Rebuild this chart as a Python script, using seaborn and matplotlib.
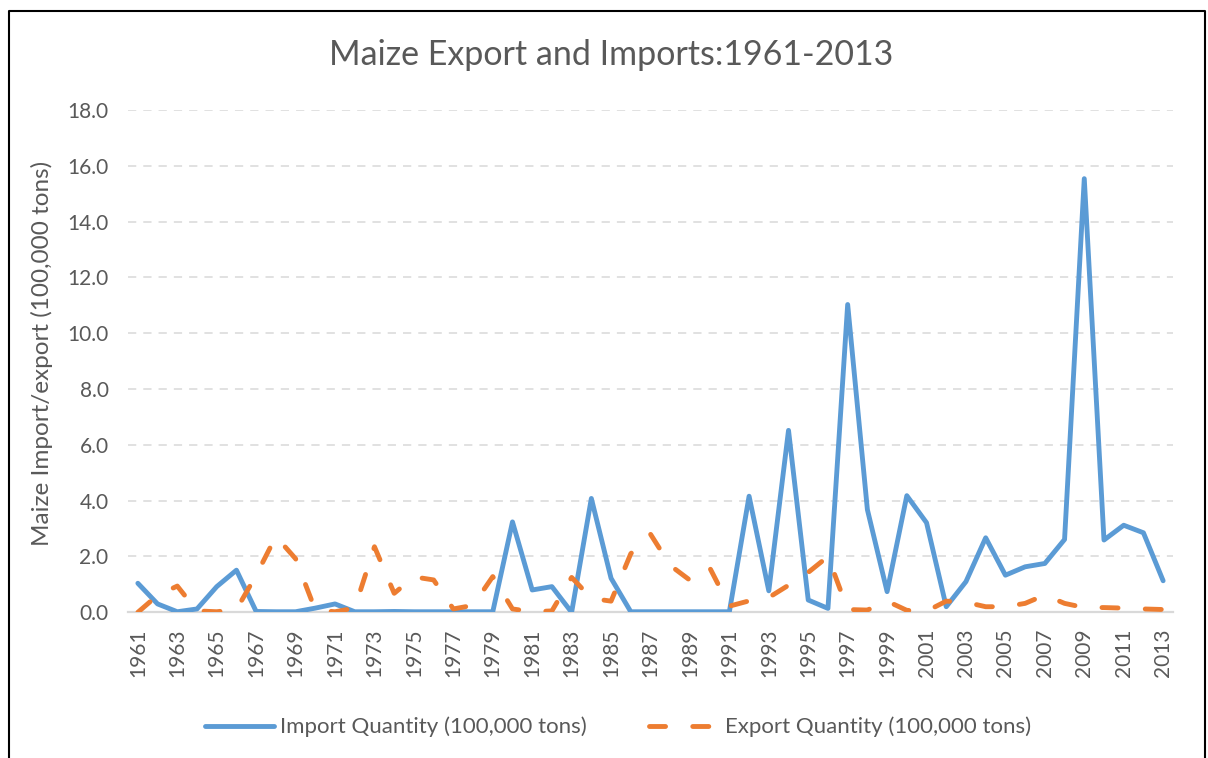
import matplotlib
matplotlib.use("Agg")
import matplotlib.pyplot as plt
import pandas as pd
import seaborn as sns
from matplotlib.lines import Line2D

years = [1961, 1962, 1963, 1964, 1965, 1966, 1967, 1968, 1969, 1970,
         1971, 1972, 1973, 1974, 1975, 1976, 1977, 1978, 1979, 1980,
         1981, 1982, 1983, 1984, 1985, 1986, 1987, 1988, 1989, 1990,
         1991, 1992, 1993, 1994, 1995, 1996, 1997, 1998, 1999, 2000,
         2001, 2002, 2003, 2004, 2005, 2006, 2007, 2008, 2009, 2010,
         2011, 2012, 2013]

import_qty = [1.04, 0.30, 0.02, 0.12, 0.92, 1.51, 0.03, 0.02, 0.02, 0.15,
              0.30, 0.02, 0.02, 0.03, 0.02, 0.02, 0.02, 0.02, 0.02, 3.24,
              0.80, 0.92, 0.00, 4.08, 1.22, 0.02, 0.02, 0.02, 0.02, 0.02,
              0.02, 4.16, 0.77, 6.52, 0.44, 0.14, 11.03, 3.68, 0.74, 4.18,
              3.21, 0.20, 1.10, 2.67, 1.33, 1.63, 1.75, 2.61, 15.54, 2.59,
              3.12, 2.85, 1.13]

export_qty = [0.00, 0.61, 0.94, 0.05, 0.02, 0.10, 1.33, 2.72, 1.92, 0.08,
              0.02, 0.15, 2.35, 0.68, 1.27, 1.16, 0.12, 0.25, 1.28, 0.12,
              0.02, 0.05, 1.25, 0.50, 0.40, 2.10, 2.80, 1.68, 1.15, 1.60,
              0.22, 0.41, 0.53, 0.97, 1.43, 2.00, 0.10, 0.08, 0.40, 0.07,
              0.04, 0.40, 0.36, 0.20, 0.20, 0.32, 0.62, 0.32, 0.17, 0.17,
              0.15, 0.12, 0.10]

series_names = ["Import Quantity (100,000 tons)", "Export Quantity (100,000 tons)"]
y_ticks = [0, 2, 4, 6, 8, 10, 12, 14, 16, 18]
x_ticks = years[::2]
title_text = "Maize Export and Imports:1961-2013"
ylabel_text = "Maize Import/export (100,000 tons)"

sns.set_theme(style="white")
plt.rcParams['font.family'] = ['Lato', 'DejaVu Sans']

df = pd.DataFrame({
    "Year": years + years,
    "Value": import_qty + export_qty,
    "Series": [series_names[0]] * len(years) + [series_names[1]] * len(years),
})

W, H = 1208, 758
fig = plt.figure(figsize=(W / 100, H / 100), dpi=100)
fig.patch.set_facecolor("white")
left, right, top, bottom = 128, 1173, 110, 612.3
ax = fig.add_axes([left / W, 1 - bottom / H, (right - left) / W, (bottom - top) / H])

blue, orange = "#5B9BD5", "#ED7D31"
grey_text = "#595959"

sns.lineplot(data=df, x="Year", y="Value", hue="Series", style="Series",
             hue_order=series_names, style_order=series_names,
             palette={series_names[0]: blue, series_names[1]: orange},
             dashes={series_names[0]: "", series_names[1]: (3.3, 5.6)},
             linewidth=3.5, ax=ax, legend=False, sort=False)

for ln in ax.lines:
    ln.set_solid_capstyle("round")
    ln.set_dash_capstyle("round")
    ln.set_solid_joinstyle("round")
    ln.set_dash_joinstyle("round")
    ln.set_zorder(3)

ax.set_xlim(years[0] - 0.5, years[-1] + 0.5)
ax.set_ylim(0, 18)
ax.set_yticks(y_ticks)
ax.set_yticklabels([f"{v:.1f}" for v in y_ticks])
ax.set_xticks(x_ticks)
ax.set_xticklabels([str(y) for y in x_ticks], rotation=90)
ax.tick_params(axis="both", length=0, labelsize=15, labelcolor=grey_text)
ax.tick_params(axis="y", pad=14)
ax.tick_params(axis="x", pad=12)
ax.set_xlabel("")
ax.set_ylabel("")

ax.yaxis.grid(True, color="#D9D9D9", linestyle=(0, (5.4, 4.6)), linewidth=1.1)
ax.xaxis.grid(False)
for s in ["left", "right", "top"]:
    ax.spines[s].set_visible(False)
ax.spines["bottom"].set_color("#D9D9D9")
ax.spines["bottom"].set_linewidth(1.6)

fig.text(611 / W, 1 - 55 / H, title_text, ha="center", va="center",
         fontsize=24.5, color=grey_text)
fig.text(42 / W, 1 - 353 / H, ylabel_text, ha="center", va="center",
         rotation=90, fontsize=17.5, color=grey_text)

handles = [ax.lines[0], ax.lines[1]]
leg = fig.legend(handles, series_names, loc="center",
                 bbox_to_anchor=(618 / W, 1 - 727 / H), ncol=2, frameon=False,
                 fontsize=16, handlelength=3.1, handletextpad=0.3,
                 columnspacing=2.8, labelcolor=grey_text)

# chart area border
fig.add_artist(Line2D([9 / W, 9 / W, 1205 / W, 1205 / W],
                      [0, 1 - 11 / H, 1 - 11 / H, 0],
                      transform=fig.transFigure, color="black", linewidth=1.5))

fig.savefig("out.png", dpi=100)
